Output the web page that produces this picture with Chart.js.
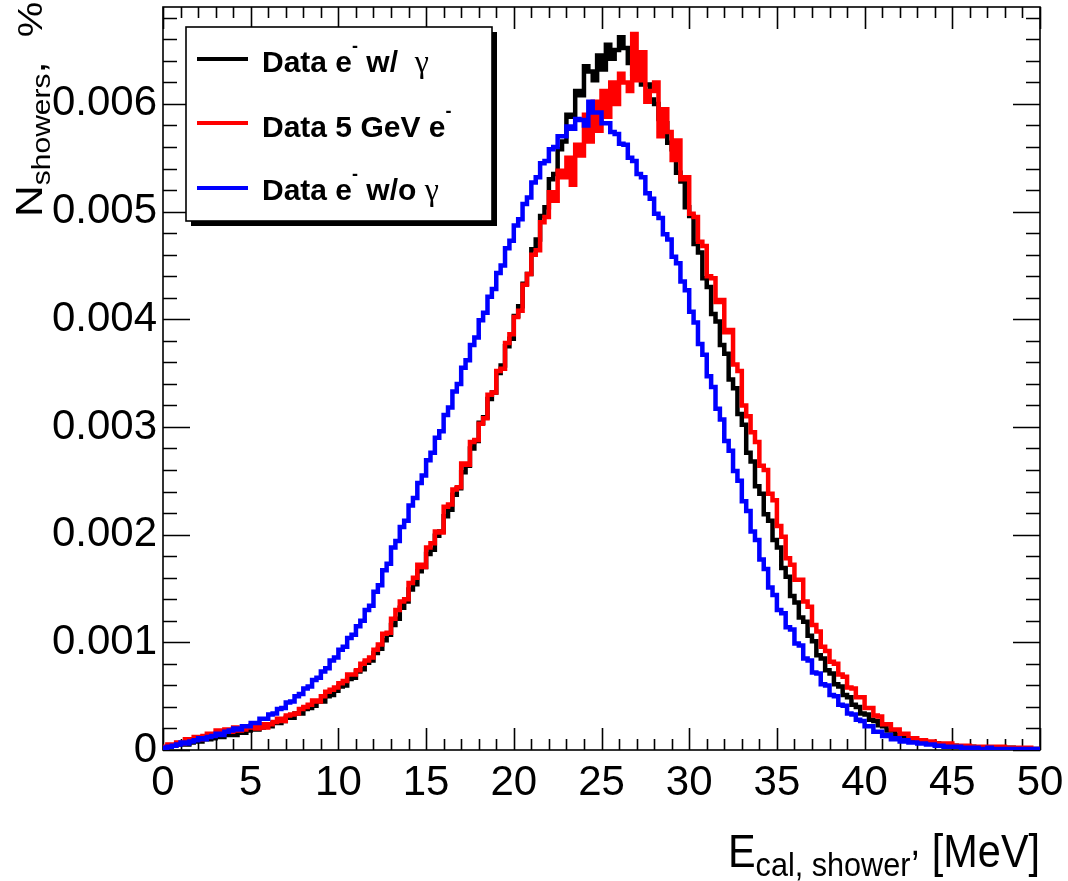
<!DOCTYPE html>
<html>
<head>
<meta charset="utf-8">
<script src="https://cdn.jsdelivr.net/npm/chart.js@4.4.1/dist/chart.umd.min.js"></script>
<style>
  html, body { margin: 0; padding: 0; background: #fff; }
  #wrap { width: 1068px; height: 881px; }
</style>
</head>
<body>
<div id="wrap"><canvas id="hist" width="1068" height="881"></canvas></div>
<script>
// bin low edges in MeV (0.25 MeV bins, 0..50)
var binEdges = [];
for (var i = 0; i < 200; i++) binEdges.push(i * 0.25);

// fraction of showers per bin, in units of 1e-3 (4 bins per MeV per group)
var wGamma = [
  0.00, 0.02, 0.03, 0.04,  0.05, 0.06, 0.05, 0.07,  0.08, 0.08, 0.10, 0.10,
  0.11, 0.13, 0.12, 0.14,  0.15, 0.14, 0.17, 0.16,  0.18, 0.19, 0.19, 0.21,
  0.22, 0.22, 0.25, 0.25,  0.27, 0.30, 0.30, 0.34,  0.34, 0.38, 0.39, 0.41,
  0.45, 0.45, 0.50, 0.51,  0.55, 0.59, 0.60, 0.66,  0.67, 0.73, 0.75, 0.81,
  0.83, 0.90, 0.94, 1.02,  1.07, 1.16, 1.22, 1.32,  1.38, 1.49, 1.54, 1.66,
  1.70, 1.82, 1.86, 1.99,  2.03, 2.17, 2.23, 2.37,  2.43, 2.58, 2.64, 2.80,
  2.87, 3.04, 3.09, 3.26,  3.32, 3.50, 3.57, 3.75,  3.82, 4.03, 4.12, 4.33,
  4.42, 4.65, 4.74, 4.96,  5.04, 5.30, 5.35, 5.58,  5.65, 5.90, 5.88, 6.12,
  6.08, 6.35, 6.30, 6.22,  6.45, 6.32, 6.55, 6.42,  6.50, 6.62, 6.52, 6.38,
  6.28, 6.40, 6.18, 6.18,  6.04, 6.00, 5.86, 5.82,  5.64, 5.58, 5.36, 5.28,
  5.04, 4.96, 4.70, 4.62,  4.38, 4.30, 4.05, 3.98,  3.76, 3.68, 3.44, 3.36,
  3.12, 3.02, 2.76, 2.68,  2.45, 2.38, 2.19, 2.13,  1.95, 1.88, 1.69, 1.61,
  1.43, 1.37, 1.23, 1.19,  1.06, 1.01, 0.88, 0.85,  0.74, 0.71, 0.61, 0.59,
  0.51, 0.49, 0.42, 0.40,  0.34, 0.33, 0.28, 0.27,  0.23, 0.22, 0.18, 0.18,
  0.14, 0.14, 0.11, 0.11,  0.09, 0.09, 0.07, 0.07,  0.06, 0.06, 0.05, 0.04,
  0.04, 0.04, 0.03, 0.03,  0.03, 0.03, 0.02, 0.02,  0.02, 0.02, 0.02, 0.02,
  0.02, 0.01, 0.02, 0.01,  0.01, 0.01, 0.01, 0.01
];
var beam5GeV = [
  0.00, 0.03, 0.05, 0.04,  0.07, 0.06, 0.10, 0.09,  0.12, 0.10, 0.13, 0.15,
  0.14, 0.18, 0.16, 0.19,  0.17, 0.21, 0.18, 0.19,  0.21, 0.23, 0.20, 0.24,
  0.21, 0.24, 0.26, 0.29,  0.27, 0.32, 0.33, 0.34,  0.38, 0.40, 0.42, 0.46,
  0.45, 0.50, 0.54, 0.56,  0.58, 0.62, 0.64, 0.70,  0.70, 0.74, 0.80, 0.83,
  0.86, 0.93, 0.98, 1.08,  1.09, 1.22, 1.30, 1.38,  1.40, 1.55, 1.60, 1.72,
  1.70, 1.88, 1.92, 2.03,  2.02, 2.26, 2.28, 2.42,  2.44, 2.66, 2.65, 2.86,
  2.88, 3.03, 3.08, 3.30,  3.32, 3.52, 3.54, 3.78,  3.86, 4.02, 4.08, 4.32,
  4.42, 4.60, 4.64, 4.90,  4.95, 5.18, 5.10, 5.38,  5.32, 5.50, 5.25, 5.62,
  5.52, 5.90, 5.65, 6.02,  5.75, 6.12, 5.88, 6.20,  6.00, 6.28, 6.20, 6.12,
  6.65, 6.22, 6.48, 6.02,  6.12, 6.20, 5.70, 5.95,  5.74, 5.48, 5.66, 5.30,
  5.32, 4.98, 4.95, 4.72,  4.68, 4.40, 4.38, 4.16,  4.18, 3.88, 3.90, 3.58,
  3.52, 3.20, 3.10, 2.95,  2.86, 2.64, 2.60, 2.38,  2.32, 2.08, 1.98, 1.78,
  1.72, 1.58, 1.58, 1.38,  1.33, 1.16, 1.10, 0.96,  0.92, 0.82, 0.80, 0.70,
  0.68, 0.58, 0.57, 0.49,  0.49, 0.39, 0.39, 0.32,  0.31, 0.24, 0.24, 0.19,
  0.19, 0.15, 0.15, 0.11,  0.11, 0.08, 0.09, 0.07,  0.08, 0.05, 0.06, 0.04,
  0.06, 0.04, 0.04, 0.03,  0.04, 0.03, 0.03, 0.02,  0.03, 0.02, 0.03, 0.02,
  0.03, 0.02, 0.02, 0.02,  0.02, 0.02, 0.02, 0.01
];
var woGamma = [
  0.00, 0.02, 0.03, 0.04,  0.05, 0.07, 0.06, 0.08,  0.09, 0.11, 0.10, 0.12,
  0.13, 0.15, 0.14, 0.17,  0.18, 0.20, 0.19, 0.22,  0.22, 0.25, 0.25, 0.29,
  0.29, 0.33, 0.34, 0.38,  0.39, 0.44, 0.45, 0.50,  0.52, 0.57, 0.59, 0.65,
  0.67, 0.73, 0.76, 0.83,  0.86, 0.93, 0.96, 1.04,  1.07, 1.15, 1.20, 1.30,
  1.34, 1.47, 1.53, 1.67,  1.73, 1.88, 1.94, 2.07,  2.13, 2.27, 2.34, 2.48,
  2.55, 2.69, 2.76, 2.90,  2.96, 3.11, 3.18, 3.33,  3.40, 3.55, 3.62, 3.76,
  3.83, 3.99, 4.06, 4.21,  4.28, 4.43, 4.50, 4.66,  4.73, 4.87, 4.93, 5.07,
  5.13, 5.27, 5.32, 5.45,  5.47, 5.58, 5.60, 5.70,  5.70, 5.79, 5.77, 5.86,
  5.85, 5.80, 6.02, 5.92,  5.92, 5.82, 5.82, 5.74,  5.72, 5.63, 5.62, 5.50,
  5.47, 5.35, 5.32, 5.17,  5.12, 4.98, 4.94, 4.79,  4.74, 4.58, 4.52, 4.35,
  4.27, 4.07, 3.97, 3.77,  3.67, 3.47, 3.37, 3.17,  3.07, 2.87, 2.78, 2.59,
  2.50, 2.31, 2.22, 2.03,  1.95, 1.77, 1.68, 1.51,  1.44, 1.30, 1.27, 1.14,
  1.12, 0.99, 0.97, 0.85,  0.83, 0.72, 0.71, 0.61,  0.60, 0.51, 0.50, 0.42,
  0.41, 0.34, 0.33, 0.28,  0.27, 0.22, 0.22, 0.17,  0.17, 0.13, 0.14, 0.10,
  0.11, 0.08, 0.09, 0.07,  0.07, 0.06, 0.06, 0.05,  0.05, 0.04, 0.04, 0.03,
  0.03, 0.03, 0.03, 0.02,  0.02, 0.02, 0.02, 0.01,  0.01, 0.02, 0.01, 0.01,
  0.01, 0.01, 0.01, 0.01,  0.01, 0.00, 0.01, 0.01
];

var seriesNames = ["Data e- w/ gamma", "Data 5 GeV e-", "Data e- w/o gamma"];
var seriesColors = ["#000000", "#ff0000", "#0000ff"];

function histPoints(vals) {
  var pts = binEdges.map(function (x, i) { return { x: x, y: vals[i] / 1000 }; });
  pts.push({ x: 50, y: vals[vals.length - 1] / 1000 });
  return pts;
}

var FONT = "'Liberation Sans', Arial, Helvetica, sans-serif";
var SERIF = "'Liberation Serif', 'Times New Roman', serif";

// text pieces with sub/superscripts, drawn left to right from x on baseline y
function setFont(ctx, p) {
  ctx.font = (p.bold ? "bold " : "") + p.size + "px " + (p.family || FONT);
}
function richWidth(ctx, parts) {
  var w = 0;
  parts.forEach(function (p) { setFont(ctx, p); w += (p.gap || 0) + ctx.measureText(p.t).width; });
  return w;
}
function drawRich(ctx, parts, x, y) {
  parts.forEach(function (p) {
    setFont(ctx, p);
    x += p.gap || 0;
    ctx.fillText(p.t, x, y + (p.dy || 0));
    x += ctx.measureText(p.t).width;
  });
}

var rootFrame = {
  id: "rootFrame",
  beforeDatasetsDraw: function (chart) {
    var ctx = chart.ctx, a = chart.chartArea;
    var xs = chart.scales.x, ys = chart.scales.y;
    ctx.save();
    ctx.strokeStyle = "#000";
    ctx.lineWidth = 1.6;
    ctx.strokeRect(a.left, a.top, a.right - a.left, a.bottom - a.top);
    ctx.beginPath();
    for (var e = 0; e <= 50; e++) {
      var px = Math.round(xs.getPixelForValue(e)) + 0.5;
      var len = (e % 5 === 0) ? 22 : 11;
      ctx.moveTo(px, a.bottom); ctx.lineTo(px, a.bottom - len);
      ctx.moveTo(px, a.top); ctx.lineTo(px, a.top + len);
    }
    for (var k = 0; k <= 34; k++) {
      var py = Math.round(ys.getPixelForValue(k * 0.0002)) + 0.5;
      var l2 = (k % 5 === 0) ? 27 : 14;
      ctx.moveTo(a.left, py); ctx.lineTo(a.left + l2, py);
      ctx.moveTo(a.right, py); ctx.lineTo(a.right - l2, py);
    }
    ctx.stroke();
    ctx.restore();
  },
  afterDraw: function (chart) {
    var ctx = chart.ctx;
    ctx.save();
    ctx.fillStyle = "#000";
    ctx.textBaseline = "alphabetic";

    // y axis title, rotated
    ctx.save();
    ctx.translate(42, 217);
    ctx.rotate(-Math.PI / 2);
    ctx.scale(1, 0.86);
    drawRich(ctx, [
      { t: "N", size: 44 },
      { t: "showers", size: 30, dy: 9 },
      { t: ",", size: 44, dy: 4 },
      { t: "%", size: 40, gap: 24 }
    ], 0, 0);
    ctx.restore();

    // x axis title, right aligned to the frame
    var xt = [
      { t: "E", size: 46 },
      { t: "cal, shower", size: 34, dy: 9 },
      { t: ",", size: 40, dy: -12 },
      { t: " [MeV]", size: 46 }
    ];
    ctx.save();
    var sx = 0.9;
    var w = richWidth(ctx, xt) * sx;
    ctx.translate(1040 - w, 867);
    ctx.scale(sx, 1);
    drawRich(ctx, xt, 0, 0);
    ctx.restore();

    // legend box with shadow
    ctx.fillStyle = "#000";
    ctx.fillRect(191, 32, 306, 194);
    ctx.fillStyle = "#fff";
    ctx.fillRect(186, 27, 306, 194);
    ctx.strokeStyle = "#000";
    ctx.lineWidth = 1.6;
    ctx.strokeRect(186, 27, 306, 194);

    var rows = [
      { y: 59, base: 72, parts: [
        { t: "Data e", size: 30, bold: true },
        { t: "-", size: 18, bold: true, dy: -20 },
        { t: " w/  ", size: 30, bold: true },
        { t: "\u03b3", size: 32, family: SERIF }
      ] },
      { y: 123, base: 137, parts: [
        { t: "Data 5 GeV e", size: 30, bold: true },
        { t: "-", size: 18, bold: true, dy: -20 }
      ] },
      { y: 188, base: 200, parts: [
        { t: "Data e", size: 30, bold: true },
        { t: "-", size: 18, bold: true, dy: -20 },
        { t: " w/o ", size: 30, bold: true },
        { t: "\u03b3", size: 32, family: SERIF }
      ] }
    ];
    rows.forEach(function (r, i) {
      ctx.strokeStyle = seriesColors[i];
      ctx.lineWidth = 4;
      ctx.beginPath();
      ctx.moveTo(197, r.y); ctx.lineTo(248, r.y);
      ctx.stroke();
      ctx.fillStyle = "#000";
      drawRich(ctx, r.parts, 262, r.base);
    });
    ctx.restore();
  }
};

var ctx = document.getElementById("hist");
var chart = new Chart(ctx, {
  type: "line",
  data: {
    datasets: [
      { label: seriesNames[0], data: histPoints(wGamma), borderColor: seriesColors[0], order: 3 },
      { label: seriesNames[1], data: histPoints(beam5GeV), borderColor: seriesColors[1], order: 2 },
      { label: seriesNames[2], data: histPoints(woGamma), borderColor: seriesColors[2], order: 1 }
    ].map(function (d) {
      d.stepped = "after";
      d.borderWidth = 4.5;
      d.pointRadius = 0;
      d.fill = false;
      d.tension = 0;
      return d;
    })
  },
  options: {
    responsive: false,
    animation: false,
    events: [],
    layout: { padding: { top: 7, right: 28, left: 0, bottom: 0 } },
    plugins: { legend: { display: false }, tooltip: { enabled: false } },
    scales: {
      x: {
        type: "linear", min: 0, max: 50,
        grid: { display: false, drawTicks: false },
        border: { display: false },
        ticks: {
          stepSize: 5, autoSkip: false, maxRotation: 0, padding: 8,
          color: "#000", font: { family: FONT, size: 42 }
        },
        afterFit: function (s) {
          s.height = 881 - 750;
          s.paddingLeft = 0; s.paddingRight = 0;
        }
      },
      y: {
        type: "linear", min: 0, max: 0.0069,
        grid: { display: false, drawTicks: false },
        border: { display: false },
        ticks: {
          stepSize: 0.001, includeBounds: false, padding: 6,
          color: "#000", font: { family: FONT, size: 42 },
          callback: function (v) { return v === 0 ? "0" : v.toFixed(3); }
        },
        afterFit: function (s) {
          s.width = 163;
          s.paddingTop = 0; s.paddingBottom = 0;
        }
      }
    }
  },
  plugins: [rootFrame]
});
</script>
</body>
</html>
